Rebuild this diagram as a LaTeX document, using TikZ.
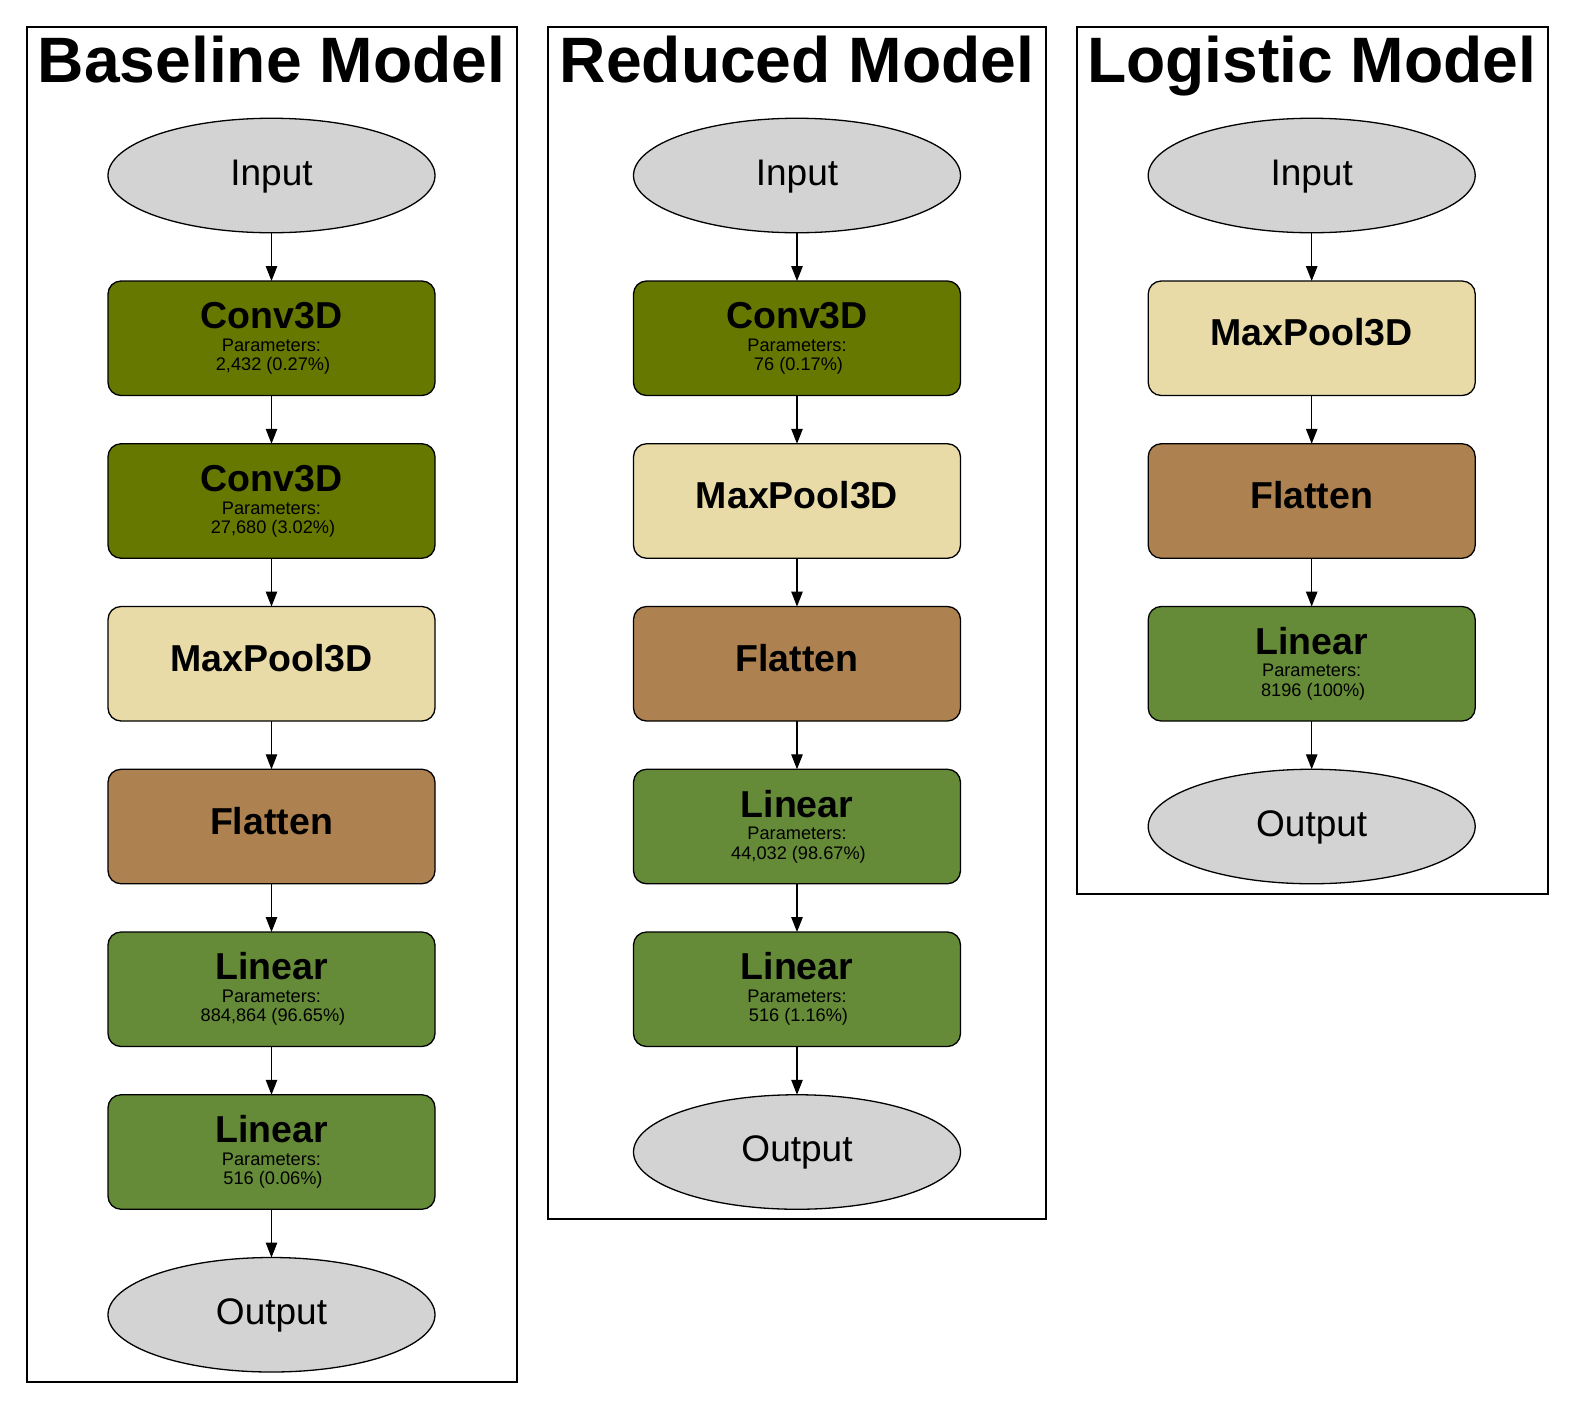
\documentclass[tikz,border=0pt]{standalone}
\usepackage{fontspec}
\setmainfont{Liberation Sans}
\usetikzlibrary{shapes.geometric,arrows.meta}
\definecolor{convc}{HTML}{667800}
\definecolor{poolc}{HTML}{E8DBA7}
\definecolor{flatc}{HTML}{AE8250}
\definecolor{linc}{HTML}{658B38}
\definecolor{ellc}{HTML}{D3D3D3}
\newcommand\parlines[4]{%
  \node[ptext] (#1a) at (#2,#3+13) {Parameters:};
  \node[ptext] (#1b) at (#2+1.5,#3+32.5) {#4};}
\begin{document}
\begin{tikzpicture}[x=1pt,y=-1pt,
  cluster/.style={draw=black,line width=1.3pt},
  title/.style={anchor=base,inner sep=0pt,font=\fontsize{64.2}{70}\selectfont\bfseries},
  layer/.style={rectangle,draw=black,line width=1.3pt,rounded corners=13pt,
     minimum width=327pt,minimum height=114.5pt,inner sep=0pt,outer sep=0pt,
     font=\fontsize{37.5}{40}\selectfont\bfseries},
  withpar/.style={text height=27pt,text depth=46pt},
  nopar/.style={text height=27pt,text depth=12pt},
  conv/.style={layer,withpar,fill=convc},
  pool/.style={layer,nopar,fill=poolc},
  flat/.style={layer,nopar,fill=flatc},
  lin/.style={layer,withpar,fill=linc},
  io/.style={ellipse,draw=black,line width=1.3pt,fill=ellc,minimum width=327pt,
     minimum height=114.5pt,inner sep=0pt,outer sep=0pt,text height=27pt,text depth=8pt,
     font=\fontsize{37}{40}\selectfont},
  ptext/.style={anchor=base,inner sep=0pt,font=\fontsize{18.2}{20}\selectfont},
  edge/.style={draw=black,line width=1.3pt,-{Triangle[length=15pt,width=11.5pt]}}
]
\useasboundingbox (0,0) rectangle (1575,1409);
% clusters
\draw[cluster] (27,27) rectangle (517,1382);
\draw[cluster] (548,27) rectangle (1046,1219);
\draw[cluster] (1077,27) rectangle (1548,894);
\node[title] (t1) at (271.5,82) {Baseline Model};
\node[title] (t2) at (797,82) {Reduced Model};
\node[title] (t3) at (1311.7,82) {Logistic Model};
% Baseline
\node[io]   (a0) at (271.5,175.5) {Input};
\node[conv] (a1) at (271.5,338.25) {Conv3D};
\parlines{a1p}{271.5}{338.25}{2,432 (0.27\%)}
\node[conv] (a2) at (271.5,501) {Conv3D};
\parlines{a2p}{271.5}{501}{27,680 (3.02\%)}
\node[pool] (a3) at (271.5,663.75) {MaxPool3D};
\node[flat] (a4) at (271.5,826.5) {Flatten};
\node[lin]  (a5) at (271.5,989.25) {Linear};
\parlines{a5p}{271.5}{989.25}{884,864 (96.65\%)}
\node[lin]  (a6) at (271.5,1152) {Linear};
\parlines{a6p}{271.5}{1152}{516 (0.06\%)}
\node[io]   (a7) at (271.5,1314.75) {Output};
% Reduced
\node[io]   (b0) at (797,175.5) {Input};
\node[conv] (b1) at (797,338.25) {Conv3D};
\parlines{b1p}{797}{338.25}{76 (0.17\%)}
\node[pool] (b2) at (797,501) {MaxPool3D};
\node[flat] (b3) at (797,663.75) {Flatten};
\node[lin]  (b4) at (797,826.5) {Linear};
\parlines{b4p}{797}{826.5}{44,032 (98.67\%)}
\node[lin]  (b5) at (797,989.25) {Linear};
\parlines{b5p}{797}{989.25}{516 (1.16\%)}
\node[io]   (b6) at (797,1152) {Output};
% Logistic
\node[io]   (c0) at (1311.7,175.5) {Input};
\node[pool] (c1) at (1311.7,338.25) {MaxPool3D};
\node[flat] (c2) at (1311.7,501) {Flatten};
\node[lin]  (c3) at (1311.7,663.75) {Linear};
\parlines{c3p}{1311.7}{663.75}{8196 (100\%)}
\node[io]   (c4) at (1311.7,826.5) {Output};
% edges
\draw[edge] (a0) -- (a1);
\draw[edge] (a1) -- (a2);
\draw[edge] (a2) -- (a3);
\draw[edge] (a3) -- (a4);
\draw[edge] (a4) -- (a5);
\draw[edge] (a5) -- (a6);
\draw[edge] (a6) -- (a7);
\draw[edge] (b0) -- (b1);
\draw[edge] (b1) -- (b2);
\draw[edge] (b2) -- (b3);
\draw[edge] (b3) -- (b4);
\draw[edge] (b4) -- (b5);
\draw[edge] (b5) -- (b6);
\draw[edge] (c0) -- (c1);
\draw[edge] (c1) -- (c2);
\draw[edge] (c2) -- (c3);
\draw[edge] (c3) -- (c4);
\end{tikzpicture}
\end{document}
